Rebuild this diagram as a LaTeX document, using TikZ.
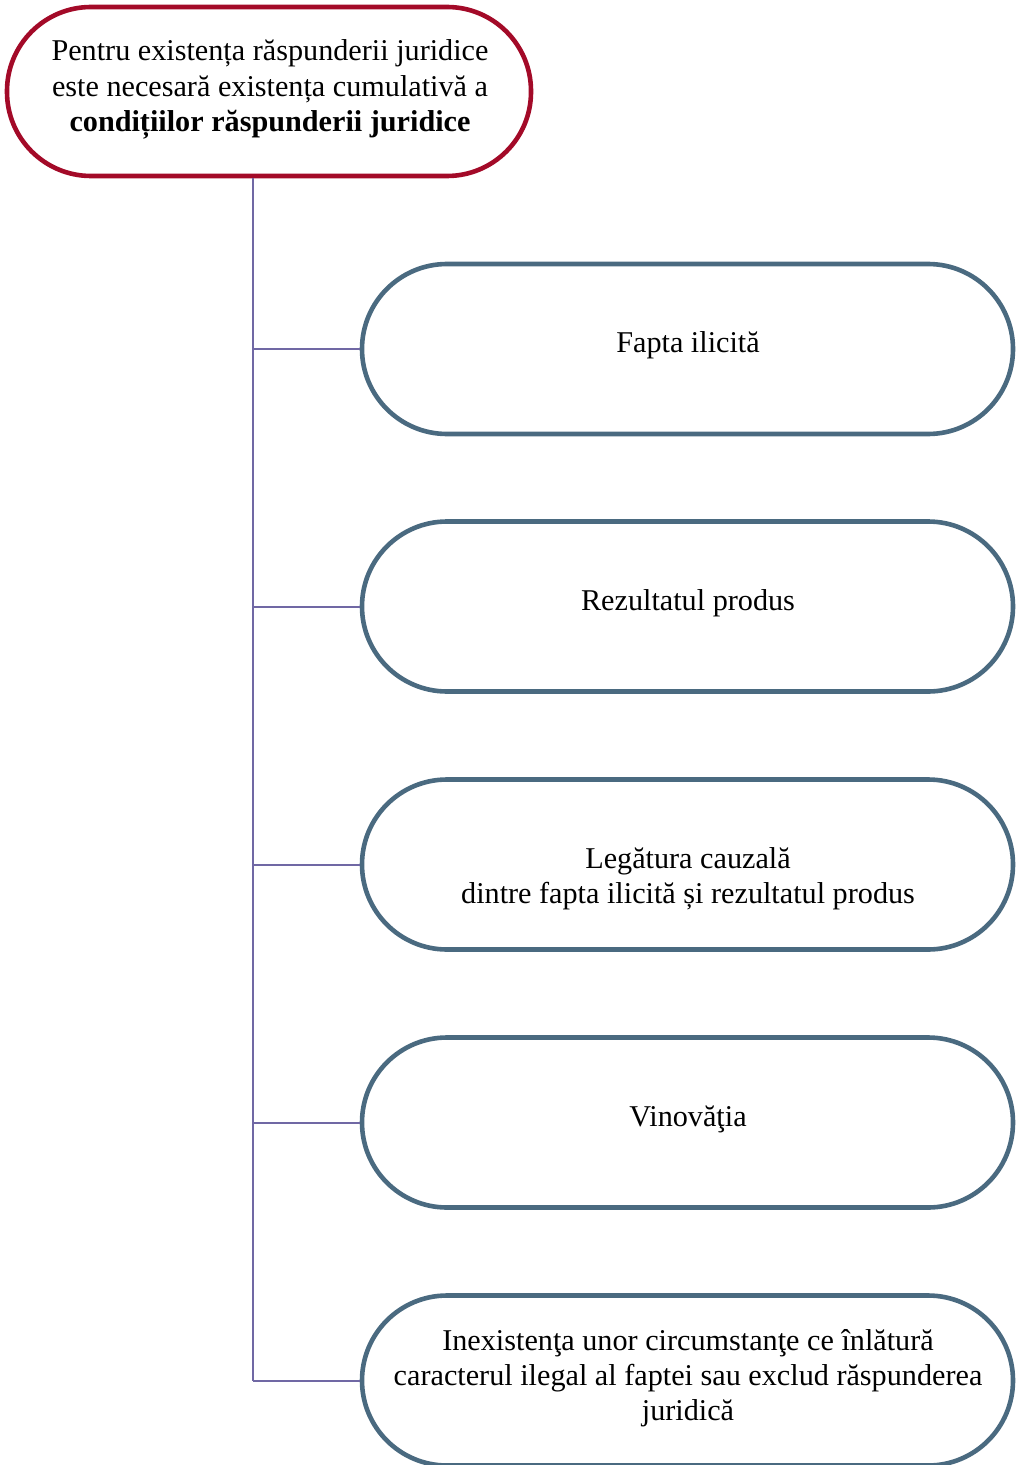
\documentclass[tikz,border=0pt]{standalone}
\usepackage{fontspec}
\setmainfont{Liberation Serif}
\definecolor{rootred}{RGB}{163,10,40}
\definecolor{slate}{RGB}{74,106,128}
\definecolor{wire}{RGB}{112,104,164}
\begin{document}
\begin{tikzpicture}[x=0.5pt,y=-0.5pt,
  every node/.style={font=\fontsize{15.1}{17.6}\selectfont, align=center},
  rootbox/.style={draw=rootred, line width=2.3pt, fill=white,
    rounded corners=42pt, minimum width=262pt, minimum height=84.5pt, inner sep=0pt},
  condbox/.style={draw=slate, line width=2.3pt, fill=white,
    rounded corners=42.5pt, minimum width=325.5pt, minimum height=85pt, inner sep=0pt},
  link/.style={draw=wire, line width=1pt}]
\useasboundingbox (0,0) rectangle (1017,1465);

% root condition
\node[rootbox] (root) at (269,91.5) {};
\node (roottext) at (270,89.5) {Pentru existența răspunderii juridice\\
  este necesară existența cumulativă a\\
  \textbf{condițiilor răspunderii juridice}};

% the five conditions
\node[condbox] (c1) at (687.5,349) {};
\node (t1) at (688,345) {Fapta ilicită};
\node[condbox] (c2) at (687.5,606.5) {};
\node (t2) at (688,603) {Rezultatul produs};
\node[condbox] (c3) at (687.5,864.5) {};
\node (t3) at (688,879) {Legătura cauzală\\ dintre fapta ilicită și rezultatul produs};
\node[condbox] (c4) at (687.5,1122.5) {};
\node (t4) at (688,1119) {Vinovăţia};
\node[condbox] (c5) at (687.5,1380.5) {};
\node (t5) at (688,1378) {Inexistenţa unor circumstanţe ce înlătură\\
  caracterul ilegal al faptei sau exclud răspunderea\\ juridică};

% spine and branches
\coordinate (spine) at (253,178);
\draw[link] (spine) -- (spine |- c5.west);
\foreach \c in {c1,c2,c3,c4,c5}
  \draw[link] (spine |- \c.west) -- (\c.west);
\end{tikzpicture}
\end{document}
